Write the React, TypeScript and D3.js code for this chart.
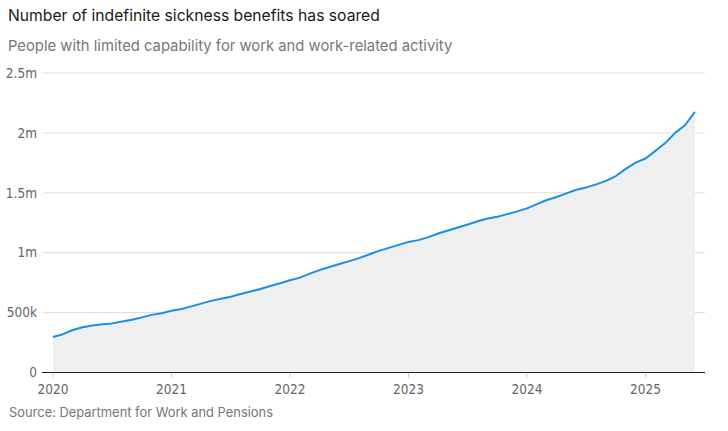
import React from 'react';
import * as d3 from 'd3';

// Monthly caseload, Jan 2020 – Jun 2025 (thousands)
const startYear = 2020;
const values = [
  297, 320, 355, 378, 392, 402, 410, 425, 440, 460, 481, 495,
  515, 530, 552, 575, 598, 615, 633, 655, 676, 697, 722, 745,
  770, 792, 825, 855, 880, 905, 930, 955, 985, 1015, 1040, 1065,
  1090, 1105, 1130, 1160, 1185, 1210, 1235, 1262, 1285, 1300, 1322, 1345,
  1370, 1405, 1440, 1465, 1495, 1525, 1545, 1570, 1600, 1640, 1700, 1752,
  1786, 1850, 1915, 2000, 2064, 2175,
];
const yTicks = [0, 500, 1000, 1500, 2000, 2500];
const yTickLabels = ['0', '500k', '1m', '1.5m', '2m', '2.5m'];
const xTicks = [2020, 2021, 2022, 2023, 2024, 2025];

const title = 'Number of indefinite sickness benefits has soared';
const subtitle = 'People with limited capability for work and work-related activity';
const source = 'Source: Department for Work and Pensions';

const W = 728;
const H = 431;
const left = 43;
const right = 705;
const top = 73;
const bottom = 372.5;

const textFont = "'Inter', 'Noto Sans', sans-serif";
const tickFont = "'Liberation Sans Narrow', 'DejaVu Sans Condensed', sans-serif";

export default function App() {
  const data = values.map((v, i) => ({ t: startYear + i / 12, v }));

  const x = d3.scaleLinear().domain([2020, 2025]).range([53, 645.5]);
  const y = d3.scaleLinear().domain([0, 2500]).range([bottom, top]);

  const line = d3.line<{ t: number; v: number }>().x((d) => x(d.t)).y((d) => y(d.v));
  const area = d3
    .area<{ t: number; v: number }>()
    .x((d) => x(d.t))
    .y0(y(0))
    .y1((d) => y(d.v));

  return (
    <svg
      width={W}
      height={H}
      style={{ position: 'absolute', left: 0, top: 0, background: '#fff' }}
    >
      <text x={8} y={21} fontFamily={textFont} fontSize={15.7} fill="#1a1a1a">
        {title}
      </text>
      <text x={8} y={51} fontFamily={textFont} fontSize={14.8} fill="#777">
        {subtitle}
      </text>

      {yTicks.map((t, i) => (
        <g key={t}>
          {t > 0 && (
            <line x1={left} x2={right} y1={y(t)} y2={y(t)} stroke="#dcdcdc" strokeWidth={1} />
          )}
          <text
            x={37}
            y={y(t)}
            dy="0.35em"
            textAnchor="end"
            fontFamily={tickFont}
            fontSize={13.5}
            fill="#666"
          >
            {yTickLabels[i]}
          </text>
        </g>
      ))}

      <path d={area(data) || ''} fill="#efefef" />
      <path d={line(data) || ''} fill="none" stroke="#1a8fe3" strokeWidth={2} strokeLinejoin="round" />

      <line x1={left - 1} x2={right} y1={bottom} y2={bottom} stroke="#222" strokeWidth={1.2} />
      {xTicks.map((t) => (
        <g key={t}>
          <line x1={x(t)} x2={x(t)} y1={bottom + 1} y2={bottom + 5} stroke="#ccc" strokeWidth={1} />
          <text
            x={x(t)}
            y={389}
            dy="0.35em"
            textAnchor="middle"
            fontFamily={tickFont}
            fontSize={13.5}
            fill="#666"
          >
            {t}
          </text>
        </g>
      ))}

      <text x={9} y={417} fontFamily={textFont} fontSize={12.9} fill="#777">
        {source}
      </text>
    </svg>
  );
}
